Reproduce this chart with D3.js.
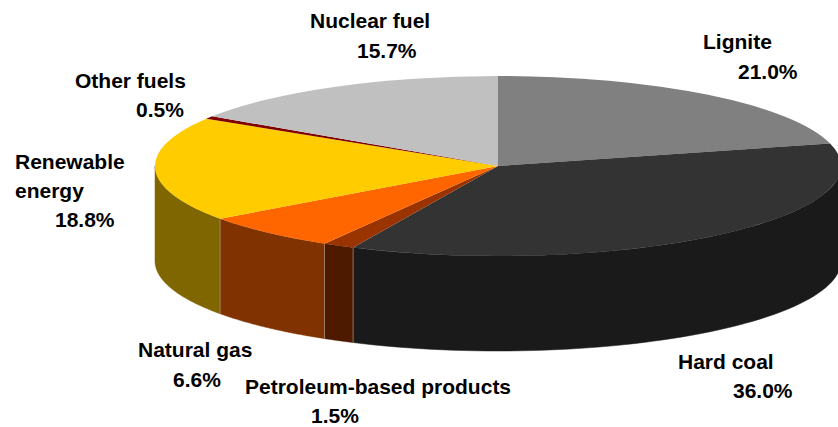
<!DOCTYPE html>
<html>
<head>
<meta charset="utf-8">
<script src="https://cdnjs.cloudflare.com/ajax/libs/d3/7.8.5/d3.min.js"></script>
<style>
html, body { margin: 0; padding: 0; background: #fff; overflow: hidden; }
text { font-family: "Liberation Sans", Arial, sans-serif; font-weight: bold; font-size: 21px; fill: #000; }
</style>
</head>
<body>
<div id="chart"></div>
<script>
const categories = ["Lignite", "Hard coal", "Petroleum-based products", "Natural gas", "Renewable energy", "Other fuels", "Nuclear fuel"];
const shares = [21.0, 36.0, 1.5, 6.6, 18.8, 0.5, 15.7];
const shareLabels = ["21.0%", "36.0%", "1.5%", "6.6%", "18.8%", "0.5%", "15.7%"];

const topColors = ["#808080", "#333333", "#993300", "#ff6600", "#ffcc00", "#800000", "#c0c0c0"];
const sideColors = ["#404040", "#1a1a1a", "#4d1a00", "#803300", "#806600", "#400000", "#606060"];

// label lines, left x and baseline y, one entry per category
const labelLayout = [
    [["Lignite", 703, 49], [shareLabels[0], 738, 79]],
    [["Hard coal", 678, 369], [shareLabels[1], 733, 398]],
    [["Petroleum-based products", 245, 394], [shareLabels[2], 311, 423]],
    [["Natural gas", 138, 357], [shareLabels[3], 173, 387]],
    [["Renewable", 15, 169], ["energy", 15, 198], [shareLabels[4], 55, 227]],
    [["Other fuels", 75, 88], [shareLabels[5], 136, 117]],
    [["Nuclear fuel", 310, 28], [shareLabels[6], 357, 58]]
];

const width = 838, height = 427;
const cx = 498, cy = 166, rx = 343, ry = 90, depth = 95;

const svg = d3.select("#chart").append("svg")
    .attr("width", width)
    .attr("height", height)
    .style("display", "block");

const slices = d3.pie().sort(null).value(d => d)(shares);

const px = a => cx + rx * Math.sin(a);
const py = a => cy - ry * Math.cos(a);

// front wall of a slice, only the part that faces the viewer
function wallPath(d) {
    const a0 = Math.max(d.startAngle, Math.PI / 2);
    const a1 = Math.min(d.endAngle, 3 * Math.PI / 2);
    if (a1 <= a0) return null;
    const steps = d3.range(0, 61).map(i => a0 + (a1 - a0) * i / 60);
    const upper = steps.map(a => [px(a), py(a)]);
    const lower = steps.slice().reverse().map(a => [px(a), py(a) + depth]);
    return d3.line()(upper.concat(lower)) + "Z";
}

svg.append("g")
    .selectAll("path")
    .data(slices)
    .join("path")
        .attr("d", wallPath)
        .attr("fill", (d, i) => sideColors[i])
        .attr("stroke", (d, i) => sideColors[i])
        .attr("stroke-width", 0.5);

// thin light seams where the walls meet
svg.append("g")
    .selectAll("line")
    .data(slices.slice(1, 4))
    .join("line")
        .attr("x1", d => px(d.endAngle))
        .attr("x2", d => px(d.endAngle))
        .attr("y1", d => py(d.endAngle))
        .attr("y2", d => py(d.endAngle) + depth)
        .attr("stroke", "#a89a80")
        .attr("stroke-width", 0.7);

const arc = d3.arc().innerRadius(0).outerRadius(rx);

svg.append("g")
    .attr("transform", `translate(${cx},${cy}) scale(1,${ry / rx})`)
    .selectAll("path")
    .data(slices)
    .join("path")
        .attr("d", arc)
        .attr("fill", (d, i) => topColors[i]);

const labels = svg.append("g")
    .selectAll("g")
    .data(categories)
    .join("g");

labels.selectAll("text")
    .data((d, i) => labelLayout[i])
    .join("text")
        .attr("x", d => d[1])
        .attr("y", d => d[2])
        .text(d => d[0]);
</script>
</body>
</html>
